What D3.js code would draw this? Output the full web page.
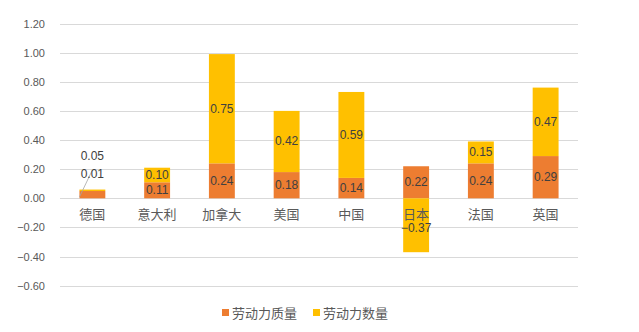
<!DOCTYPE html>
<html><head><meta charset="utf-8">
<script src="https://cdn.jsdelivr.net/npm/d3@7"></script>
<style>body{margin:0;background:#fff}svg{display:block}text{font-family:"Liberation Sans","Noto Sans CJK SC",sans-serif}</style>
</head><body><svg id="c" width="639" height="332"></svg>
<script>
const categories = ["德国","意大利","加拿大","美国","中国","日本","法国","英国"];
const quality = [0.05,0.11,0.24,0.18,0.14,0.22,0.24,0.29];
const quantity = [0.01,0.10,0.75,0.42,0.59,-0.37,0.15,0.47];
const seriesNames = ["劳动力质量","劳动力数量"];
const colors = ["#ED7D31","#FFC000"];
const yTicks = [1.2,1.0,0.8,0.6,0.4,0.2,0,-0.2,-0.4,-0.6];

const svg = d3.select("#c");
const x = d3.scaleBand().domain(categories).range([60,578]).paddingInner(0.6).paddingOuter(0.3);
const y = d3.scaleLinear().domain([-0.6,1.2]).range([285.7,23.5]);

// gridlines
svg.append("g").selectAll("line").data(yTicks).join("line")
  .attr("x1",60).attr("x2",578).attr("y1",d=>Math.round(y(d))+0.5).attr("y2",d=>Math.round(y(d))+0.5)
  .attr("stroke","#d9d9d9").attr("stroke-width",1);
// y axis labels
const yAxis = d3.axisLeft(y).tickValues(yTicks).tickFormat(d3.format(".2f")).tickSize(0).tickPadding(0);
const ga = svg.append("g").attr("transform","translate(45,0)").call(yAxis);
ga.select(".domain").remove();
ga.selectAll("text").attr("fill","#595959").style("font-size","11px");

// stacked segments
const segs = [];
categories.forEach((c,i)=>{
  const q = quality[i], n = quantity[i];
  segs.push({c, s:0, y0:0, y1:q, v:q});
  if(n>=0) segs.push({c, s:1, y0:q, y1:q+n, v:n});
  else segs.push({c, s:1, y0:0, y1:n, v:n});
});
svg.append("g").selectAll("rect").data(segs).join("rect")
  .attr("x",d=>x(d.c)).attr("width",x.bandwidth())
  .attr("y",d=>y(Math.max(d.y0,d.y1))).attr("height",d=>Math.abs(y(d.y0)-y(d.y1)))
  .attr("fill",d=>colors[d.s]);

// labels
const fmt = d3.format(".2f");
const lg = svg.append("g");
categories.forEach((c,i)=>{
  const cx = x(c)+x.bandwidth()/2;
  const cs = segs.filter(d=>d.c===c);
  const small = cs.some(d=>Math.abs(y(d.y0)-y(d.y1))<10);
  if(small){
    lg.append("line").attr("x1",x(c)).attr("y1",y(cs[0].y1)+6).attr("x2",cx).attr("y2",y(cs[0].y1)-21)
      .attr("stroke","#a6a6a6").attr("stroke-width",0.8);
    lg.append("text").attr("x",cx).attr("y",y(cs[0].y1)-35).attr("text-anchor","middle").attr("dominant-baseline","central")
      .attr("fill","#404040").style("font-size","12px").text(fmt(cs[0].v));
    lg.append("text").attr("x",cx).attr("y",y(cs[0].y1)-17).attr("text-anchor","middle").attr("dominant-baseline","central")
      .attr("fill","#404040").style("font-size","12px").text(fmt(cs[1].v));
  } else {
    cs.forEach(d=>{
      let ly = y((d.y0+d.y1)/2);
      if(d.v<0) ly = Math.max(ly, y(0)+30); // keep clear of category label
      lg.append("text").attr("x",cx).attr("y",ly).attr("text-anchor","middle").attr("dominant-baseline","central")
        .attr("fill","#404040").style("font-size","12px").text(fmt(d.v));
    });
  }
});

// category labels
svg.append("g").selectAll("text").data(categories).join("text")
  .attr("x",d=>x(d)+x.bandwidth()/2).attr("y",y(0)+16).attr("text-anchor","middle").attr("dominant-baseline","central")
  .attr("fill","#595959").style("font-size","13px").text(d=>d);

// legend
const legX = [222,313];
const lgd = svg.append("g").selectAll("g").data(seriesNames).join("g")
  .attr("transform",(d,i)=>`translate(${legX[i]},313)`);
lgd.append("rect").attr("x",0).attr("y",-4).attr("width",7).attr("height",7).attr("fill",(d,i)=>colors[i]);
lgd.append("text").attr("x",10).attr("y",0).attr("dominant-baseline","central").attr("fill","#595959").style("font-size","13px").text(d=>d);
</script></body></html>
